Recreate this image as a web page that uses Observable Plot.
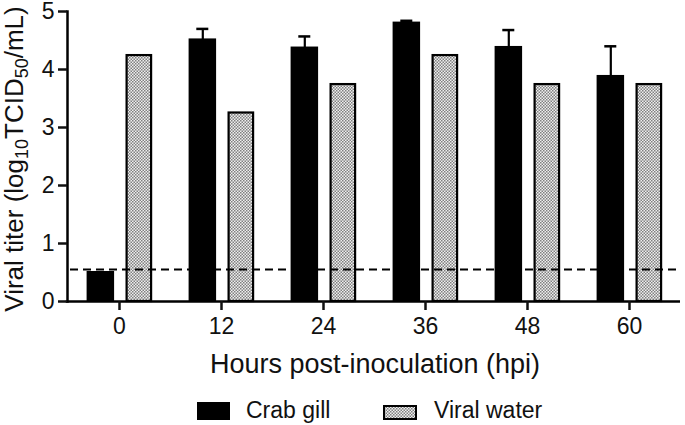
<!DOCTYPE html>
<html><head><meta charset="utf-8">
<script src="https://cdn.jsdelivr.net/npm/d3@7"></script>
<script src="https://cdn.jsdelivr.net/npm/@observablehq/plot@0.6"></script>
<style>
body{margin:0;background:#fff;}
#chart svg{font-family:"Liberation Sans",Arial,sans-serif;}
</style>
</head><body><div id="chart"></div>
<script>
// ---- data ----
const hours = ["0","12","24","36","48","60"];
const seriesNames = ["Crab gill","Viral water"];
const crabGill = [0.50, 4.51, 4.37, 4.80, 4.38, 3.88];
const crabGillUpper = [null, 4.70, 4.57, 4.84, 4.68, 4.40];
const viralWater = [4.24, 3.25, 3.74, 4.24, 3.74, 3.74];
const detectionLimit = [0.55];
const yTicks = [0, 1, 2, 3, 4, 5];
const xTitle = "Hours post-inoculation (hpi)";

const crab = hours.map((h, i) => ({hour: h, value: crabGill[i], upper: crabGillUpper[i]}));
const water = hours.map((h, i) => ({hour: h, value: viralWater[i]}));
const errs = crab.filter(d => d.upper != null);

const ink = "#111";
const chart = Plot.plot({
  width: 685,
  height: 425,
  marginLeft: 67,
  marginRight: 5,
  marginTop: 11,
  marginBottom: 124,
  style: {color: ink, background: "#fff", fontFamily: "Liberation Sans, Arial, sans-serif"},
  x: {type: "band", domain: hours, padding: 0},
  y: {domain: [0, 5]},
  marks: [
    Plot.barY(crab, {x: "hour", y: "value", fill: "#000", stroke: "#000", strokeWidth: 2, insetLeft: 19.6, insetRight: 56.9}),
    Plot.barY(water, {x: "hour", y: "value", fill: "url(#checker)", stroke: "#000", strokeWidth: 2.2, insetLeft: 58.6, insetRight: 18.9}),
    Plot.ruleX(errs, {x: "hour", y1: "value", y2: "upper", stroke: "#000", strokeWidth: 2.2, dx: -18.7}),
    Plot.tickY(errs, {x: "hour", y: "upper", stroke: "#000", strokeWidth: 2.5, insetLeft: 26.3, insetRight: 63.7}),
    Plot.ruleY(detectionLimit, {stroke: "#000", strokeWidth: 2, strokeDasharray: "8,5", insetLeft: 3}),
    Plot.ruleY([0], {stroke: "#000", strokeWidth: 2.5, insetLeft: -1.25}),
    Plot.frame({anchor: "left", stroke: "#000", strokeWidth: 2.5}),
    Plot.axisY(yTicks, {tickSize: 9, tickPadding: 4, fontSize: 23, label: null, strokeWidth: 2.5, tickFormat: d3.format("d")}),
    Plot.axisX({tickSize: 9, tickPadding: 7, fontSize: 23, label: null, strokeWidth: 2.5})
  ]
});

document.getElementById("chart").appendChild(chart);

const svg = d3.select(chart);
const defs = svg.insert("defs", ":first-child");
const pat = defs.append("pattern").attr("id", "checker")
  .attr("width", 3).attr("height", 3).attr("patternUnits", "userSpaceOnUse");
pat.append("rect").attr("width", 3).attr("height", 3).attr("fill", "#efefef");
pat.append("rect").attr("width", 1.5).attr("height", 1.5).attr("fill", "#808080");
pat.append("rect").attr("x", 1.5).attr("y", 1.5).attr("width", 1.5).attr("height", 1.5).attr("fill", "#808080");

// axis titles
svg.append("text").attr("x", 375).attr("y", 373).attr("text-anchor", "middle")
  .attr("font-size", 27).attr("fill", ink).text(xTitle);

const yt = svg.append("text").attr("transform", "translate(23,159) rotate(-90)")
  .attr("text-anchor", "middle").attr("font-size", 26).attr("fill", ink);
yt.append("tspan").text("Viral titer (log");
yt.append("tspan").attr("font-size", 18).attr("dy", 5).text("10");
yt.append("tspan").attr("dy", -5).text("TCID");
yt.append("tspan").attr("font-size", 18).attr("dy", 5).text("50");
yt.append("tspan").attr("dy", -5).text("/mL)");

// legend
const leg = svg.append("g").attr("text-anchor", "start");
leg.append("rect").attr("x", 197).attr("y", 402).attr("width", 33).attr("height", 18).attr("fill", "#000");
leg.append("text").attr("x", 246).attr("y", 418).attr("font-size", 23).attr("fill", ink).text(seriesNames[0]);
leg.append("rect").attr("x", 384).attr("y", 406).attr("width", 32).attr("height", 13)
  .attr("fill", "url(#checker)").attr("stroke", "#000").attr("stroke-width", 2);
leg.append("text").attr("x", 434).attr("y", 418).attr("font-size", 23).attr("fill", ink).text(seriesNames[1]);
</script>
</body></html>
